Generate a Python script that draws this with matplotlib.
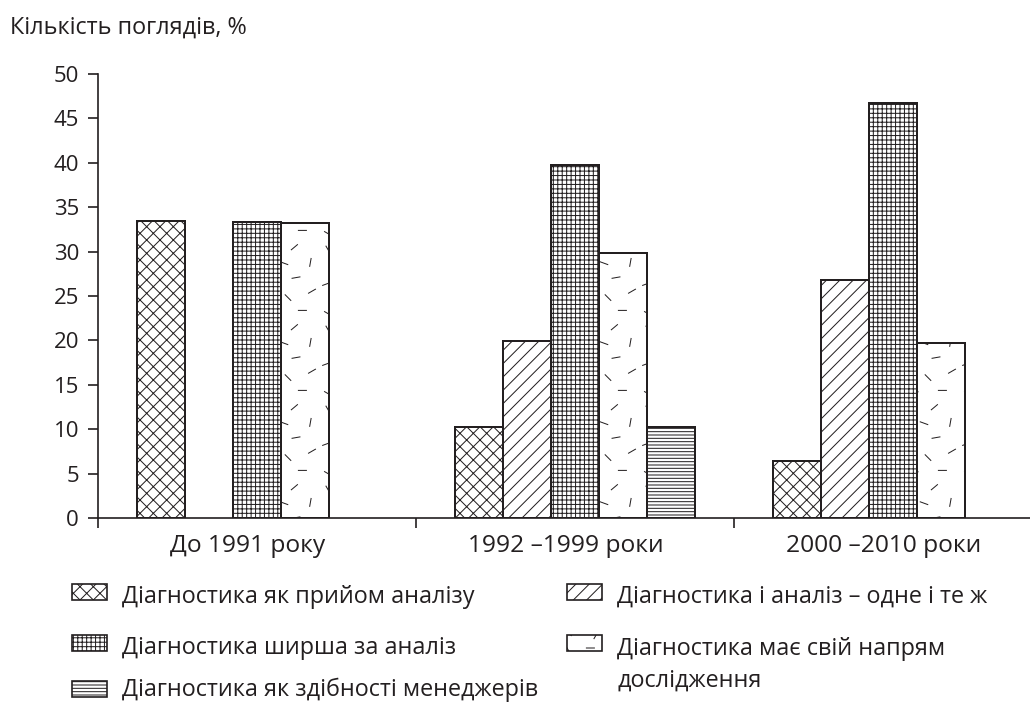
import numpy as np
import matplotlib
matplotlib.use('Agg')
import matplotlib.pyplot as plt
import matplotlib.hatch as mhatch
from matplotlib.path import Path
from matplotlib.patches import Rectangle

groups = ['До 1991 року', '1992 –1999 роки', '2000 –2010 роки']
names = ['Діагностика як прийом аналізу',
         'Діагностика і аналіз – одне і те ж',
         'Діагностика ширша за аналіз',
         'Діагностика має свій напрям\nдослідження',
         'Діагностика як здібності менеджерів']
# values in %, one list per series, one value per period
tool_of_analysis = [33.5, 10.2, 6.4]
same_as_analysis = [0, 19.9, 26.8]
wider_than_analysis = [33.3, 39.7, 46.7]
own_direction = [33.2, 29.8, 19.7]
manager_skills = [0, 10.3, 0]
series = [tool_of_analysis, same_as_analysis, wider_than_analysis,
          own_direction, manager_skills]
hatches = ['xx', '//', '+++', 'o', '----']

INK = '#231f20'
W, H, DPI = 1030, 704, 80

# short scattered dashes as a hatch (replaces the small-circle 'o' hatch)
DASHES = [(0.10, 0.08, -30), (0.45, 0.06, 60), (0.78, 0.12, 0), (0.25, 0.25, 90),
          (0.60, 0.28, -45), (0.90, 0.36, 30), (0.08, 0.45, 20), (0.40, 0.48, -70),
          (0.70, 0.53, 10), (0.22, 0.66, 50), (0.55, 0.71, -20), (0.88, 0.72, 80),
          (0.10, 0.88, -60), (0.38, 0.90, 0), (0.68, 0.91, 40)]


class ShortDashes(mhatch.HatchPatternBase):
    def __init__(self, hatch, density):
        self.num_vertices = 2 * len(DASHES) if 'o' in hatch else 0

    def set_vertices_and_codes(self, vertices, codes):
        for k, (cx, cy, a) in enumerate(DASHES):
            dx = 0.05 * np.cos(np.radians(a))
            dy = 0.05 * np.sin(np.radians(a))
            vertices[2 * k] = (cx - dx, cy - dy)
            vertices[2 * k + 1] = (cx + dx, cy + dy)
            codes[2 * k] = Path.MOVETO
            codes[2 * k + 1] = Path.LINETO


mhatch._hatch_types = [t for t in mhatch._hatch_types
                       if t.__name__ != 'SmallCircles'] + [ShortDashes]

plt.rcParams['font.family'] = ['Open Sans', 'DejaVu Sans']
plt.rcParams['hatch.linewidth'] = 0.9
plt.rcParams['hatch.color'] = INK
plt.rcParams['text.color'] = INK

fig = plt.figure(figsize=(W / DPI, H / DPI), dpi=DPI)


def fx(px):
    return px / W


def fy(py):
    return 1 - py / H


ax = fig.add_axes([fx(98), fy(518), fx(1030 - 98), (518 - 74) / H])

x = np.arange(len(groups))
bw = 0.151
for i, vals in enumerate(series):
    vals = np.array(vals, dtype=float)
    keep = vals > 0
    ax.bar(x[keep] + (i - 2) * bw, vals[keep], width=bw, color='white',
           edgecolor=INK, linewidth=1.8, hatch=hatches[i], zorder=3)

ax.set_xlim(-0.5, 2.43)
ax.set_ylim(0, 50)
ax.set_yticks(np.arange(0, 51, 5))
ax.set_xticks([-0.5, 0.5, 1.5])
ax.set_xticklabels([])
ax.set_xticks(x - 0.03, minor=True)
ax.set_xticklabels(groups, minor=True)
ax.tick_params(axis='x', which='major', direction='out', length=9, width=1.5, color=INK)
ax.tick_params(axis='x', which='minor', length=0, pad=14, labelsize=22, labelcolor=INK)
ax.tick_params(axis='y', direction='out', length=9, width=1.5, pad=8,
               labelsize=20, color=INK, labelcolor=INK)
for s in ['top', 'right']:
    ax.spines[s].set_visible(False)
for s in ['left', 'bottom']:
    ax.spines[s].set_linewidth(1.5)
    ax.spines[s].set_color(INK)

fig.text(fx(10), fy(28), 'Кількість поглядів, %', fontsize=21, va='center', ha='left')

# legend, drawn by hand: two columns (patch centre, text baseline)
order = [0, 2, 4, 1, 3]
slots = [(72, 592, 603), (72, 643, 654), (72, 689, 696),
         (567, 592, 603), (567, 643, 654)]
for k, (px, py, base) in zip(order, slots):
    fig.add_artist(Rectangle((fx(px), fy(py + 8)), 35 / W, 16 / H,
                             transform=fig.transFigure, facecolor='white',
                             edgecolor=INK, linewidth=1.5, hatch=hatches[k]))
    extra = 33 * names[k].count('\n')
    fig.text(fx(px + 50), fy(base + extra), names[k], fontsize=21, ha='left',
             va='baseline', linespacing=1.45)

fig.savefig('out.png', dpi=DPI)
